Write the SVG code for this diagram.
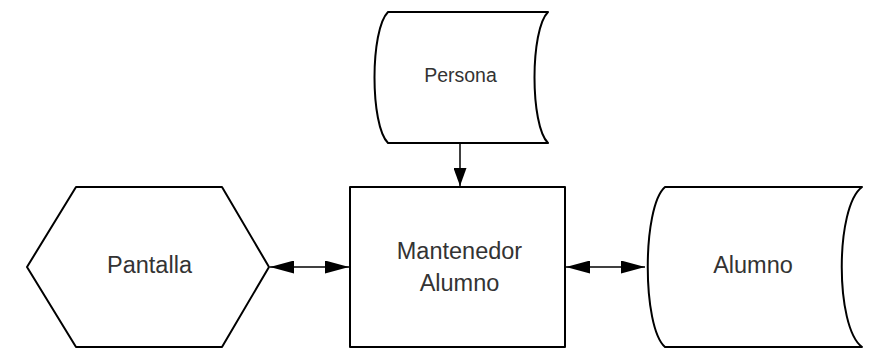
<svg xmlns="http://www.w3.org/2000/svg" width="880" height="355" viewBox="0 0 880 355">
  <style>
    .shape { fill: #ffffff; stroke: #000000; stroke-width: 2; stroke-linejoin: round; }
    .label { font-family: "Liberation Sans", Arial, sans-serif; fill: #333333; text-anchor: middle; dominant-baseline: central; font-size: 23.5px; }
    .edge { fill: none; stroke: #000000; stroke-width: 1.5; }
  </style>
  <defs>
    <marker id="arrow" viewBox="0 0 24 13" refX="24" refY="6.5" markerWidth="24" markerHeight="13" markerUnits="userSpaceOnUse" orient="auto-start-reverse">
      <path d="M0,0 L24,6.5 L0,13 Z" fill="#000000"/>
    </marker>
    <marker id="arrow-short" viewBox="0 0 18 13" refX="18" refY="6.5" markerWidth="18" markerHeight="13" markerUnits="userSpaceOnUse" orient="auto">
      <path d="M0,0 L18,6.5 L0,13 Z" fill="#000000"/>
    </marker>
  </defs>
  <rect width="880" height="355" fill="#ffffff"/>

  <!-- stored data: Persona -->
  <g id="persona">
    <path class="shape" d="M388,12 L548,12 C530,30 530,125 548,143 L388,143 C370,125 370,30 388,12 Z"/>
    <text class="label" x="460.5" y="75" style="font-size:19.5px">Persona</text>
  </g>

  <!-- display: Pantalla -->
  <g id="pantalla">
    <polygon class="shape" points="27,267 76,187 222,187 269,267 222,347 76,347"/>
    <text class="label" x="149.5" y="264.5">Pantalla</text>
  </g>

  <!-- process: Mantenedor Alumno -->
  <g id="mantenedor">
    <rect class="shape" x="350" y="187" width="215" height="160"/>
    <text class="label" x="459.5" y="250.5">Mantenedor</text>
    <text class="label" x="459.5" y="282.5">Alumno</text>
  </g>

  <!-- stored data: Alumno -->
  <g id="alumno">
    <path class="shape" d="M665,187 L862,187 C835,207 835,327 862,347 L665,347 C642,327 642,207 665,187 Z"/>
    <text class="label" x="753" y="264.5">Alumno</text>
  </g>

  <g id="connectors">
    <line class="edge" x1="460" y1="143" x2="460" y2="186" marker-end="url(#arrow-short)"/>
    <line class="edge" x1="270" y1="267" x2="349" y2="267" marker-start="url(#arrow)" marker-end="url(#arrow)"/>
    <line class="edge" x1="566" y1="267" x2="645" y2="267" marker-start="url(#arrow)" marker-end="url(#arrow)"/>
  </g>
</svg>
